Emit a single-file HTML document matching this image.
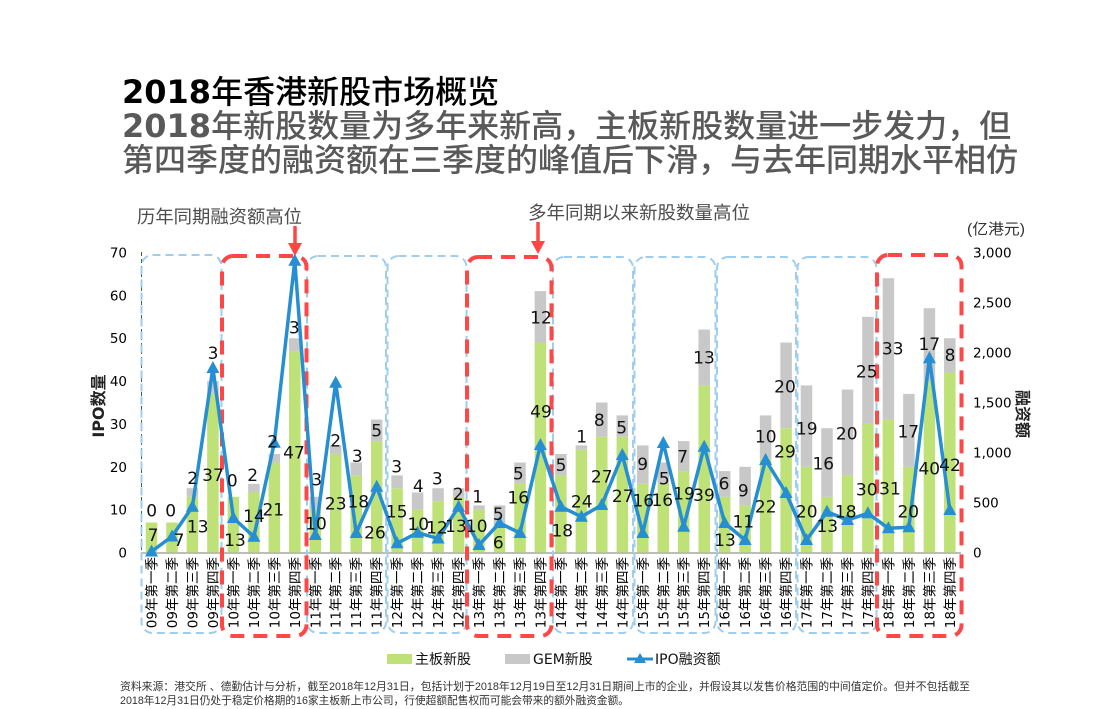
<!DOCTYPE html>
<html><head><meta charset="utf-8">
<style>
html,body{margin:0;padding:0;background:#fff;}
svg{display:block;}
.t{font-family:"DejaVu Sans","Noto Sans CJK SC",sans-serif;}
.cjk{font-family:"Liberation Sans","Noto Sans CJK SC",sans-serif;}
.dl{font-family:"DejaVu Sans",sans-serif;font-size:17px;fill:#111;text-anchor:middle;}
.xl{font-family:"DejaVu Sans","Noto Sans CJK SC",sans-serif;font-size:13.5px;fill:#000;text-anchor:end;}
</style></head>
<body>
<svg width="1113" height="709" viewBox="0 0 1113 709" xmlns="http://www.w3.org/2000/svg">
<!-- Titles -->
<text x="122" y="103" font-size="32" fill="#000"><tspan font-family="DejaVu Sans" font-weight="bold">2018</tspan><tspan font-family="Noto Sans CJK SC" font-weight="500">年香港新股市场概览</tspan></text>
<text x="122" y="137" font-size="32" fill="#595959"><tspan font-family="DejaVu Sans" font-weight="bold">2018</tspan><tspan font-family="Noto Sans CJK SC" font-weight="500">年新股数量为多年来新高，主板新股数量进一步发力，但</tspan></text>
<text x="122" y="171" font-size="32" fill="#595959" font-family="Noto Sans CJK SC" font-weight="500">第四季度的融资额在三季度的峰值后下滑，与去年同期水平相仿</text>

<!-- annotations -->
<text x="137" y="223" font-size="18" fill="#4d4d4d" class="cjk" textLength="165" lengthAdjust="spacingAndGlyphs">历年同期融资额高位</text>
<text x="528" y="219" font-size="18" fill="#4d4d4d" class="cjk" textLength="222" lengthAdjust="spacingAndGlyphs">多年同期以来新股数量高位</text>
<line x1="295" y1="226" x2="295" y2="246" stroke="#ff4545" stroke-width="3.5"/>
<polygon points="288,243 302,243 295,256" fill="#ff4545"/>
<line x1="538" y1="222" x2="538" y2="243" stroke="#ff4545" stroke-width="3.5"/>
<polygon points="531,241 545,241 538,254" fill="#ff4545"/>

<!-- unit -->
<text x="967" y="234" font-size="15" fill="#333" class="cjk" textLength="58" lengthAdjust="spacingAndGlyphs">(亿港元)</text>

<!-- left ticks -->
<g class="t" font-size="13.5" fill="#000" text-anchor="end">
<text x="127" y="557.5">0</text>
<text x="127" y="514.6">10</text>
<text x="127" y="471.8">20</text>
<text x="127" y="428.9">30</text>
<text x="127" y="386.1">40</text>
<text x="127" y="343.2">50</text>
<text x="127" y="300.4">60</text>
<text x="127" y="257.5">70</text>
</g>
<!-- right ticks -->
<g class="t" font-size="13.5" fill="#000">
<text x="973" y="557.5">0</text>
<text x="973" y="507.5">500</text>
<text x="973" y="457.5">1,000</text>
<text x="973" y="407.5">1,500</text>
<text x="973" y="357.5">2,000</text>
<text x="973" y="307.5">2,500</text>
<text x="973" y="257.5">3,000</text>
</g>
<!-- axis titles -->
<text transform="translate(104,406) rotate(-90)" text-anchor="middle" font-size="16" font-weight="bold" fill="#222" class="t">IPO数量</text>
<text transform="translate(1017,414) rotate(90)" text-anchor="middle" font-size="16" font-weight="bold" fill="#222" class="t">融资额</text>

<!-- axis lines -->
<line x1="141.5" y1="252" x2="141.5" y2="553" stroke="#2e6b3a" stroke-width="1" stroke-dasharray="4 3"/>
<line x1="141" y1="553" x2="961" y2="553" stroke="#a6a6a6" stroke-width="1.5"/>

<!-- bars: green main board -->
<g fill="#bee278">
<rect x="145.75" y="522.5" width="11.5" height="30"/>
<rect x="166.25" y="522.5" width="11.5" height="30"/>
<rect x="186.65" y="496.8" width="11.5" height="55.7"/>
<rect x="207.15" y="393.9" width="11.5" height="158.6"/>
<rect x="227.65" y="496.8" width="11.5" height="55.7"/>
<rect x="248.15" y="492.5" width="11.5" height="60"/>
<rect x="268.55" y="462.5" width="11.5" height="90"/>
<rect x="289.05" y="351.1" width="11.5" height="201.4"/>
<rect x="309.55" y="509.6" width="11.5" height="42.9"/>
<rect x="329.95" y="453.9" width="11.5" height="98.6"/>
<rect x="350.45" y="475.4" width="11.5" height="77.1"/>
<rect x="370.95" y="441.1" width="11.5" height="111.4"/>
<rect x="391.35" y="488.2" width="11.5" height="64.3"/>
<rect x="411.85" y="509.6" width="11.5" height="42.9"/>
<rect x="432.35" y="501.1" width="11.5" height="51.4"/>
<rect x="452.85" y="496.8" width="11.5" height="55.7"/>
<rect x="473.25" y="509.6" width="11.5" height="42.9"/>
<rect x="493.75" y="526.8" width="11.5" height="25.7"/>
<rect x="514.25" y="483.9" width="11.5" height="68.6"/>
<rect x="534.65" y="342.5" width="11.5" height="210"/>
<rect x="555.15" y="475.4" width="11.5" height="77.1"/>
<rect x="575.65" y="449.6" width="11.5" height="102.9"/>
<rect x="596.05" y="436.8" width="11.5" height="115.7"/>
<rect x="616.55" y="436.8" width="11.5" height="115.7"/>
<rect x="637.05" y="483.9" width="11.5" height="68.6"/>
<rect x="657.55" y="483.9" width="11.5" height="68.6"/>
<rect x="677.95" y="471.1" width="11.5" height="81.4"/>
<rect x="698.45" y="385.4" width="11.5" height="167.1"/>
<rect x="718.95" y="496.8" width="11.5" height="55.7"/>
<rect x="739.35" y="505.4" width="11.5" height="47.1"/>
<rect x="759.85" y="458.2" width="11.5" height="94.3"/>
<rect x="780.35" y="428.2" width="11.5" height="124.3"/>
<rect x="800.75" y="466.8" width="11.5" height="85.7"/>
<rect x="821.25" y="496.8" width="11.5" height="55.7"/>
<rect x="841.75" y="475.4" width="11.5" height="77.1"/>
<rect x="862.15" y="423.9" width="11.5" height="128.6"/>
<rect x="882.65" y="419.6" width="11.5" height="132.9"/>
<rect x="903.15" y="466.8" width="11.5" height="85.7"/>
<rect x="923.65" y="381.1" width="11.5" height="171.4"/>
<rect x="944.05" y="372.5" width="11.5" height="180"/>
</g>
<!-- bars: gray GEM -->
<g fill="#c8c8c8">
<rect x="186.65" y="488.2" width="11.5" height="8.6"/>
<rect x="207.15" y="381.1" width="11.5" height="12.8"/>
<rect x="248.15" y="483.9" width="11.5" height="8.6"/>
<rect x="268.55" y="453.9" width="11.5" height="8.6"/>
<rect x="289.05" y="338.2" width="11.5" height="12.9"/>
<rect x="309.55" y="496.8" width="11.5" height="12.8"/>
<rect x="329.95" y="445.4" width="11.5" height="8.5"/>
<rect x="350.45" y="462.5" width="11.5" height="12.9"/>
<rect x="370.95" y="419.6" width="11.5" height="21.5"/>
<rect x="391.35" y="475.4" width="11.5" height="12.8"/>
<rect x="411.85" y="492.5" width="11.5" height="17.1"/>
<rect x="432.35" y="488.2" width="11.5" height="12.9"/>
<rect x="452.85" y="488.2" width="11.5" height="8.6"/>
<rect x="473.25" y="505.4" width="11.5" height="4.2"/>
<rect x="493.75" y="505.4" width="11.5" height="21.4"/>
<rect x="514.25" y="462.5" width="11.5" height="21.4"/>
<rect x="534.65" y="291.1" width="11.5" height="51.4"/>
<rect x="555.15" y="454.0" width="11.5" height="21.4"/>
<rect x="575.65" y="445.4" width="11.5" height="4.2"/>
<rect x="596.05" y="402.5" width="11.5" height="34.3"/>
<rect x="616.55" y="415.4" width="11.5" height="21.4"/>
<rect x="637.05" y="445.4" width="11.5" height="38.5"/>
<rect x="657.55" y="462.5" width="11.5" height="21.4"/>
<rect x="677.95" y="441.1" width="11.5" height="30"/>
<rect x="698.45" y="329.6" width="11.5" height="55.8"/>
<rect x="718.95" y="471.1" width="11.5" height="25.7"/>
<rect x="739.35" y="466.8" width="11.5" height="38.6"/>
<rect x="759.85" y="415.4" width="11.5" height="42.8"/>
<rect x="780.35" y="342.5" width="11.5" height="85.7"/>
<rect x="800.75" y="385.4" width="11.5" height="81.4"/>
<rect x="821.25" y="428.2" width="11.5" height="68.6"/>
<rect x="841.75" y="389.6" width="11.5" height="85.8"/>
<rect x="862.15" y="316.8" width="11.5" height="107.1"/>
<rect x="882.65" y="278.2" width="11.5" height="141.4"/>
<rect x="903.15" y="393.9" width="11.5" height="72.9"/>
<rect x="923.65" y="308.2" width="11.5" height="72.9"/>
<rect x="944.05" y="338.2" width="11.5" height="34.3"/>
</g>

<!-- group boxes -->
<g fill="none" stroke="#9fcdee" stroke-width="2" stroke-dasharray="8 5">
<rect x="141.5" y="255" width="80" height="378" rx="11"/>
<rect x="307" y="256" width="79" height="377" rx="11"/>
<rect x="387.5" y="256" width="79" height="377" rx="11"/>
<rect x="553" y="257" width="80" height="376" rx="11"/>
<rect x="634.5" y="257" width="81" height="376" rx="11"/>
<rect x="717" y="257" width="79" height="376" rx="11"/>
<rect x="797.5" y="257" width="79" height="376" rx="11"/>
</g>
<g fill="none" stroke="#ff4747" stroke-width="4" stroke-dasharray="14 9">
<rect x="222" y="256" width="84.5" height="380" rx="11"/>
<rect x="467" y="257" width="84.5" height="379" rx="11"/>
<rect x="877" y="255" width="84.5" height="381" rx="11"/>
</g>

<!-- IPO line -->
<polyline fill="none" stroke="#268ed2" stroke-width="3.5" stroke-linejoin="round" points="151.5,551.5 172.0,536.5 192.4,506.7 212.9,368 233.4,518 253.9,536.7 274.3,442.7 294.8,260.7 315.3,535 335.7,382.7 356.2,533 376.7,486.7 397.1,543.3 417.6,532.7 438.1,538.5 458.6,506.7 479.0,545 499.5,523 520.0,533 540.4,445 560.9,506.7 581.4,516.7 601.8,505 622.3,455 642.8,533 663.3,443 683.7,526.7 704.2,446.7 724.7,523 745.1,540 765.6,460 786.1,493 806.5,540 827.0,511.7 847.5,520 867.9,513.3 888.4,528.3 908.9,527.3 929.4,358.3 949.8,510"/>
<g fill="#268ed2">
<path d="M151.5,544.5 l6.5,12 h-13z"/>
<path d="M172.0,529.5 l6.5,12 h-13z"/>
<path d="M192.4,499.7 l6.5,12 h-13z"/>
<path d="M212.9,361 l6.5,12 h-13z"/>
<path d="M233.4,511 l6.5,12 h-13z"/>
<path d="M253.9,529.7 l6.5,12 h-13z"/>
<path d="M274.3,435.7 l6.5,12 h-13z"/>
<path d="M294.8,253.7 l6.5,12 h-13z"/>
<path d="M315.3,528 l6.5,12 h-13z"/>
<path d="M335.7,375.7 l6.5,12 h-13z"/>
<path d="M356.2,526 l6.5,12 h-13z"/>
<path d="M376.7,479.7 l6.5,12 h-13z"/>
<path d="M397.1,536.3 l6.5,12 h-13z"/>
<path d="M417.6,525.7 l6.5,12 h-13z"/>
<path d="M438.1,531.5 l6.5,12 h-13z"/>
<path d="M458.6,499.7 l6.5,12 h-13z"/>
<path d="M479.0,538 l6.5,12 h-13z"/>
<path d="M499.5,516 l6.5,12 h-13z"/>
<path d="M520.0,526 l6.5,12 h-13z"/>
<path d="M540.4,438 l6.5,12 h-13z"/>
<path d="M560.9,499.7 l6.5,12 h-13z"/>
<path d="M581.4,509.7 l6.5,12 h-13z"/>
<path d="M601.8,498 l6.5,12 h-13z"/>
<path d="M622.3,448 l6.5,12 h-13z"/>
<path d="M642.8,526 l6.5,12 h-13z"/>
<path d="M663.3,436 l6.5,12 h-13z"/>
<path d="M683.7,519.7 l6.5,12 h-13z"/>
<path d="M704.2,439.7 l6.5,12 h-13z"/>
<path d="M724.7,516 l6.5,12 h-13z"/>
<path d="M745.1,533 l6.5,12 h-13z"/>
<path d="M765.6,453 l6.5,12 h-13z"/>
<path d="M786.1,486 l6.5,12 h-13z"/>
<path d="M806.5,533 l6.5,12 h-13z"/>
<path d="M827.0,504.7 l6.5,12 h-13z"/>
<path d="M847.5,513 l6.5,12 h-13z"/>
<path d="M867.9,506.3 l6.5,12 h-13z"/>
<path d="M888.4,521.3 l6.5,12 h-13z"/>
<path d="M908.9,520.3 l6.5,12 h-13z"/>
<path d="M929.4,351.3 l6.5,12 h-13z"/>
<path d="M949.8,503 l6.5,12 h-13z"/>
</g>

<!-- data labels -->
<g class="dl">
<text x="151.7" y="516.7">0</text><text x="153" y="541">7</text>
<text x="170.7" y="516.7">0</text><text x="179" y="546">7</text>
<text x="192.7" y="484">2</text><text x="197.7" y="532.7">13</text>
<text x="213" y="359">3</text><text x="213" y="481">37</text>
<text x="232.3" y="486.7">0</text><text x="235" y="546">13</text>
<text x="252.7" y="481">2</text><text x="254" y="522">14</text>
<text x="272.7" y="447.7">2</text><text x="273.3" y="515.3">21</text>
<text x="294.3" y="333.3">3</text><text x="294" y="458.7">47</text>
<text x="316.7" y="485.3">3</text><text x="316" y="529.3">10</text>
<text x="335.7" y="446.7">2</text><text x="335.7" y="509.3">23</text>
<text x="357.3" y="462">3</text><text x="358.3" y="507.7">18</text>
<text x="376.7" y="436.7">5</text><text x="375" y="538.7">26</text>
<text x="396.7" y="472.7">3</text><text x="396.7" y="517.7">15</text>
<text x="418.3" y="492">4</text><text x="418.3" y="530">10</text>
<text x="437.3" y="484.3">3</text><text x="437" y="533.3">12</text>
<text x="458.3" y="500">2</text><text x="456" y="532">13</text>
<text x="477.7" y="502.7">1</text><text x="476.7" y="532">10</text>
<text x="498.3" y="520">5</text><text x="498.3" y="548.7">6</text>
<text x="518.3" y="479.3">5</text><text x="518.3" y="503.3">16</text>
<text x="541" y="323.3">12</text><text x="541" y="417.7">49</text>
<text x="561" y="471">5</text><text x="562.3" y="536.7">18</text>
<text x="581.7" y="442.7">1</text><text x="581.7" y="507.7">24</text>
<text x="599.3" y="426">8</text><text x="601.7" y="482.7">27</text>
<text x="621.7" y="433.3">5</text><text x="622.7" y="502">27</text>
<text x="642.7" y="470">9</text><text x="643.3" y="506.7">16</text>
<text x="664.3" y="484.3">5</text><text x="662.3" y="506">16</text>
<text x="682.7" y="462.7">7</text><text x="684" y="499.3">19</text>
<text x="704" y="363.3">13</text><text x="704" y="501">39</text>
<text x="724" y="489.3">6</text><text x="725" y="546">13</text>
<text x="743.3" y="496.7">9</text><text x="743.3" y="527.7">11</text>
<text x="765.7" y="442.7">10</text><text x="765.7" y="512.7">22</text>
<text x="785" y="392.7">20</text><text x="785" y="457.7">29</text>
<text x="806.7" y="434.3">19</text><text x="806.7" y="517.7">20</text>
<text x="823.3" y="469.3">16</text><text x="827.3" y="532">13</text>
<text x="846.7" y="439.3">20</text><text x="845.7" y="517.7">18</text>
<text x="866.7" y="377.7">25</text><text x="866.7" y="495.3">30</text>
<text x="892.7" y="354.3">33</text><text x="890" y="494.3">31</text>
<text x="908.3" y="437.7">17</text><text x="908.3" y="517.7">20</text>
<text x="929.3" y="350">17</text><text x="929.3" y="474.3">40</text>
<text x="950" y="361">8</text><text x="950" y="471">42</text>
</g>

<!-- x labels -->
<g class="xl">
<text transform="translate(156.5,557) rotate(-90)">09年第一季</text>
<text transform="translate(177.0,557) rotate(-90)">09年第二季</text>
<text transform="translate(197.4,557) rotate(-90)">09年第三季</text>
<text transform="translate(217.9,557) rotate(-90)">09年第四季</text>
<text transform="translate(238.4,557) rotate(-90)">10年第一季</text>
<text transform="translate(258.9,557) rotate(-90)">10年第二季</text>
<text transform="translate(279.3,557) rotate(-90)">10年第三季</text>
<text transform="translate(299.8,557) rotate(-90)">10年第四季</text>
<text transform="translate(320.3,557) rotate(-90)">11年第一季</text>
<text transform="translate(340.7,557) rotate(-90)">11年第二季</text>
<text transform="translate(361.2,557) rotate(-90)">11年第三季</text>
<text transform="translate(381.7,557) rotate(-90)">11年第四季</text>
<text transform="translate(402.1,557) rotate(-90)">12年第一季</text>
<text transform="translate(422.6,557) rotate(-90)">12年第二季</text>
<text transform="translate(443.1,557) rotate(-90)">12年第三季</text>
<text transform="translate(463.6,557) rotate(-90)">12年第四季</text>
<text transform="translate(484.0,557) rotate(-90)">13年第一季</text>
<text transform="translate(504.5,557) rotate(-90)">13年第二季</text>
<text transform="translate(525.0,557) rotate(-90)">13年第三季</text>
<text transform="translate(545.4,557) rotate(-90)">13年第四季</text>
<text transform="translate(565.9,557) rotate(-90)">14年第一季</text>
<text transform="translate(586.4,557) rotate(-90)">14年第二季</text>
<text transform="translate(606.8,557) rotate(-90)">14年第三季</text>
<text transform="translate(627.3,557) rotate(-90)">14年第四季</text>
<text transform="translate(647.8,557) rotate(-90)">15年第一季</text>
<text transform="translate(668.3,557) rotate(-90)">15年第二季</text>
<text transform="translate(688.7,557) rotate(-90)">15年第三季</text>
<text transform="translate(709.2,557) rotate(-90)">15年第四季</text>
<text transform="translate(729.7,557) rotate(-90)">16年第一季</text>
<text transform="translate(750.1,557) rotate(-90)">16年第二季</text>
<text transform="translate(770.6,557) rotate(-90)">16年第三季</text>
<text transform="translate(791.1,557) rotate(-90)">16年第四季</text>
<text transform="translate(811.5,557) rotate(-90)">17年第一季</text>
<text transform="translate(832.0,557) rotate(-90)">17年第二季</text>
<text transform="translate(852.5,557) rotate(-90)">17年第三季</text>
<text transform="translate(872.9,557) rotate(-90)">17年第四季</text>
<text transform="translate(893.4,557) rotate(-90)">18年第一季</text>
<text transform="translate(913.9,557) rotate(-90)">18年第二季</text>
<text transform="translate(934.4,557) rotate(-90)">18年第三季</text>
<text transform="translate(954.8,557) rotate(-90)">18年第四季</text>
</g>

<!-- legend -->
<rect x="387" y="654" width="25" height="10" fill="#bee278"/>
<text x="415" y="664" font-size="14" fill="#111" class="t">主板新股</text>
<rect x="505" y="654" width="25" height="10" fill="#c8c8c8"/>
<text x="533" y="664" font-size="14" fill="#111" class="t">GEM新股</text>
<line x1="627" y1="659" x2="653" y2="659" stroke="#268ed2" stroke-width="3"/>
<path d="M640,653 l6,10 h-12z" fill="#268ed2"/>
<text x="655" y="664" font-size="14" fill="#111" class="t">IPO融资额</text>

<!-- footnote -->
<text x="120" y="690" font-size="11" fill="#333" class="cjk" textLength="850" lengthAdjust="spacingAndGlyphs">资料来源：港交所 、德勤估计与分析，截至2018年12月31日，包括计划于2018年12月19日至12月31日期间上市的企业，并假设其以发售价格范围的中间值定价。但并不包括截至</text>
<text x="120" y="704" font-size="11" fill="#333" class="cjk" textLength="509" lengthAdjust="spacingAndGlyphs">2018年12月31日仍处于稳定价格期的16家主板新上市公司，行使超额配售权而可能会带来的额外融资金额。</text>
</svg>
</body></html>
